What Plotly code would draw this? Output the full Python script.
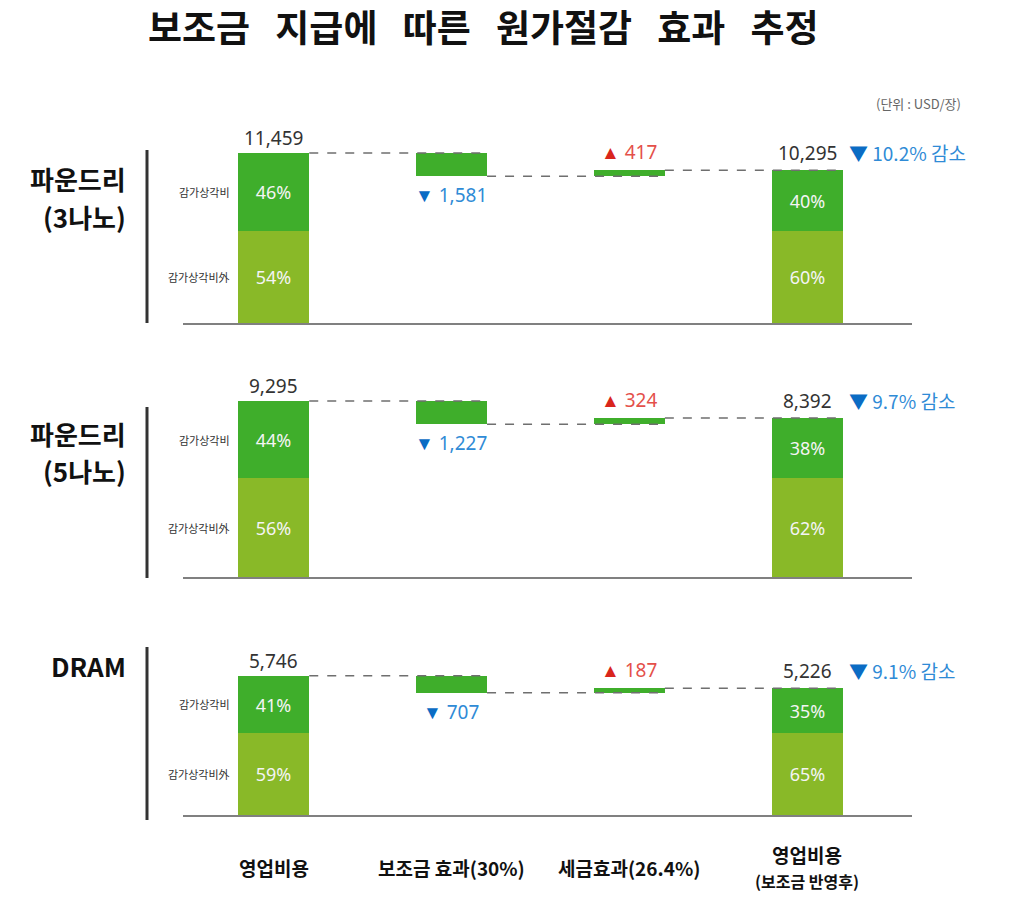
import plotly.graph_objects as go

# ---------------- data ----------------
segments = ["파운드리<br>(3나노)", "파운드리<br>(5나노)", "DRAM"]
categories = ["영업비용", "보조금 효과(30%)", "세금효과(26.4%)", "영업비용<br><span style='font-size:16px'>(보조금 반영후)</span>"]
before_cost = [11459, 9295, 5746]
subsidy_effect = [1581, 1227, 707]
tax_effect = [417, 324, 187]
after_cost = [10295, 8392, 5226]
dep_share_before = [46, 44, 41]
dep_share_after = [40, 38, 35]
reduction_pct = [10.2, 9.7, 9.1]
row_labels = ["감가상각비", "감가상각비外"]
unit_text = "(단위 : USD/장)"
title_text = "보조금 지급에 따른 원가절감 효과 추정"

# ---------------- style / layout ----------------
W, H = 1024, 904
DARK = "#3fae2b"
LIGHT = "#89b928"
BLUE_TRI = "#0b6cc4"
BLUE_TXT = "#2f8bd6"
RED_TRI = "#d9251c"
RED_TXT = "#e4504a"
FONT = "Noto Sans CJK KR"
NUMFONT = "Noto Sans"

# panel pixel geometry: (top_px, baseline_px, range_max)
panels = [(130, 323, 13000), (380, 577, 10400), (655, 815, 6600)]
vbar = [(150, 323), (407, 578), (647, 820)]
panel_label_y = [179, 433, 665]
LINE_STEP = 37
x_left_px, x_right_px = 183, 912
BW = 0.4

fig = go.Figure()
annotations = []
shapes = []

def py(p):
    return 1 - p / H

for i in range(3):
    ax = "" if i == 0 else str(i + 1)
    xa, ya = "x" + ax, "y" + ax
    b, s, t, a = before_cost[i], subsidy_effect[i], tax_effect[i], after_cost[i]
    totals = [b, a]
    deps = [dep_share_before[i], dep_share_after[i]]
    bottoms = [tot * (100 - d) / 100 for tot, d in zip(totals, deps)]
    tops = [tot * d / 100 for tot, d in zip(totals, deps)]

    # lower segment (감가상각비外)
    fig.add_trace(go.Bar(x=[0, 3], y=bottoms, base=[0, 0], width=BW,
                         marker=dict(color=LIGHT, line=dict(width=0)),
                         text=[f"{100 - d}%" for d in deps], textposition="inside",
                         insidetextanchor="middle", textangle=0,
                         textfont=dict(color="#f4f4f4", size=18, family=NUMFONT),
                         xaxis=xa, yaxis=ya, hoverinfo="skip"))
    # upper segment (감가상각비)
    fig.add_trace(go.Bar(x=[0, 3], y=tops, base=bottoms, width=BW,
                         marker=dict(color=DARK, line=dict(width=0)),
                         text=[f"{d}%" for d in deps], textposition="inside",
                         insidetextanchor="middle", textangle=0,
                         textfont=dict(color="#f4f4f4", size=18, family=NUMFONT),
                         xaxis=xa, yaxis=ya, hoverinfo="skip"))
    # subsidy effect (decrease)
    fig.add_trace(go.Bar(x=[1], y=[s], base=[b - s], width=BW,
                         marker=dict(color=DARK, line=dict(width=0)),
                         xaxis=xa, yaxis=ya, hoverinfo="skip"))
    # tax effect (increase)
    fig.add_trace(go.Bar(x=[2], y=[t], base=[b - s], width=BW,
                         marker=dict(color=DARK, line=dict(width=0)),
                         xaxis=xa, yaxis=ya, hoverinfo="skip"))
    # dashed connectors
    levels = [b, b - s, b - s + t]
    for k, lv in enumerate(levels):
        fig.add_trace(go.Scatter(x=[k + BW / 2, k + 1 + BW / 2], y=[lv, lv], mode="lines",
                                 line=dict(color="#6f6f6f", width=1.5, dash="dash"),
                                 xaxis=xa, yaxis=ya, hoverinfo="skip"))

    # value labels
    annotations.append(dict(x=0, y=b, xref=xa, yref=ya, text=f"{b:,}", showarrow=False,
                            yanchor="bottom", yshift=0, font=dict(size=19, color="#333", family=NUMFONT)))
    annotations.append(dict(x=3, y=a, xref=xa, yref=ya, text=f"{a:,}", showarrow=False,
                            yanchor="bottom", yshift=2, font=dict(size=19, color="#333", family=NUMFONT)))
    annotations.append(dict(x=1, y=b - s, xref=xa, yref=ya,
                            text=f"<span style='color:{BLUE_TRI}'>▼</span> {s:,}",
                            showarrow=False, yanchor="top", yshift=-4,
                            font=dict(size=19, color=BLUE_TXT, family=NUMFONT)))
    annotations.append(dict(x=2, y=b - s + t, xref=xa, yref=ya,
                            text=f"<span style='color:{RED_TRI}'>▲</span> {t:,}",
                            showarrow=False, yanchor="bottom", yshift=3,
                            font=dict(size=19, color=RED_TXT, family=NUMFONT)))
    annotations.append(dict(x=3 + BW / 2, y=a, xref=xa, yref=ya,
                            text=f"<span style='color:{BLUE_TRI}'>▼</span> {reduction_pct[i]}% 감소",
                            showarrow=False, xanchor="left", yanchor="bottom", xshift=4, yshift=2,
                            font=dict(size=19, color=BLUE_TXT, family=FONT)))
    # row labels beside first bar
    annotations.append(dict(x=-BW / 2, y=bottoms[0] + tops[0] / 2, xref=xa, yref=ya, text=row_labels[0],
                            showarrow=False, xanchor="right", xshift=-6,
                            font=dict(size=11, color="#333", family=FONT)))
    annotations.append(dict(x=-BW / 2, y=bottoms[0] / 2, xref=xa, yref=ya, text=row_labels[1],
                            showarrow=False, xanchor="right", xshift=-6,
                            font=dict(size=11, color="#333", family=FONT)))
    # panel label (one annotation per line)
    for j, line in enumerate(segments[i].split("<br>")):
        annotations.append(dict(x=128 / W, y=py(panel_label_y[i] + j * LINE_STEP),
                                xref="paper", yref="paper", text=f"<b>{line}</b>",
                                showarrow=False, xanchor="right", yanchor="middle",
                                font=dict(size=26, color="#111", family=FONT)))
    # vertical bar
    shapes.append(dict(type="line", xref="paper", yref="paper", x0=147 / W, x1=147 / W,
                       y0=py(vbar[i][0]), y1=py(vbar[i][1]), line=dict(color="#333", width=3)))

    top_px, base_px, rmax = panels[i]
    fig.update_layout(**{
        "xaxis" + ax: dict(domain=[x_left_px / W, x_right_px / W], range=[-0.51, 3.59],
                           showline=True, linecolor="#808080", linewidth=2,
                           showticklabels=False, showgrid=False, zeroline=False, ticks="",
                           anchor="y" + ax, fixedrange=True),
        "yaxis" + ax: dict(domain=[py(base_px), py(top_px)], range=[0, rmax],
                           visible=False, showgrid=False, zeroline=False, anchor="x" + ax,
                           fixedrange=True),
    })

# category labels at bottom
for k, c in enumerate(categories):
    annotations.append(dict(x=k, y=py(867), xref="x3", yref="paper", text=f"<b>{c}</b>", showarrow=False,
                            yanchor="middle", align="center",
                            font=dict(size=19, color="#111", family=FONT)))

annotations.append(dict(x=963 / W, y=py(103), xref="paper", yref="paper", text=unit_text,
                        showarrow=False, xanchor="right", yanchor="middle",
                        font=dict(size=13, color="#666", family=FONT)))
annotations.append(dict(x=483 / W, y=py(26), xref="paper", yref="paper",
                        text="<b>" + title_text.replace(" ", "\u00a0\u00a0\u00a0") + "</b>",
                        showarrow=False, xanchor="center", yanchor="middle",
                        font=dict(size=37, color="#111", family=FONT)))

fig.update_layout(width=W, height=H, margin=dict(l=0, r=0, t=0, b=0),
                  paper_bgcolor="white", plot_bgcolor="white", showlegend=False,
                  barmode="overlay", bargap=0, annotations=annotations, shapes=shapes,
                  font=dict(family=FONT), hovermode=False)

fig.write_html("out.html", config={"displayModeBar": False},
               post_script="document.body.style.margin='0px';document.body.style.padding='0px';")
